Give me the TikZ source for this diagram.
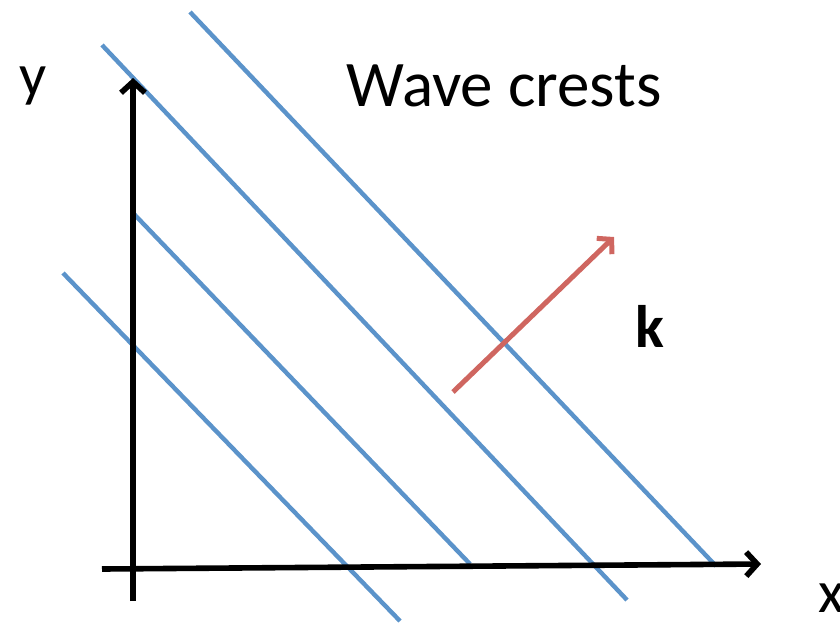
\documentclass[tikz,border=0pt]{standalone}
\usepackage{fontspec}
\setmainfont{Carlito}
\usetikzlibrary{arrows.meta}
\definecolor{crest}{HTML}{5B93CA}
\definecolor{kred}{HTML}{CF6660}
\begin{document}
\begin{tikzpicture}[x=1pt,y=-1pt,
  crestline/.style={draw=crest,line width=4.4pt},
  axis/.style={draw=black,line width=5.6pt,-{Straight Barb[length=11pt,width=24pt,line width=5.6pt]}},
  kvec/.style={draw=kred,line width=5pt,-{Straight Barb[length=10pt,width=22pt,line width=5pt]}},
  lbl/.style={inner sep=0pt,font=\fontsize{60}{62}\selectfont}]
\useasboundingbox (0,0) rectangle (840,625);
% axes
\coordinate (yb) at (133,601);
\coordinate (yt) at (133,78);
\coordinate (xl) at (102,569);
\coordinate (xr) at (761,564);
% crests
\coordinate (c1a) at (63,273);  \coordinate (c1b) at (400,621);
\coordinate (c2a) at (133,213); \coordinate (c2b) at (470,564);
\coordinate (c3a) at (102,45);  \coordinate (c3b) at (627,600);
\coordinate (c4a) at (190,12);  \coordinate (c4b) at (716,566);
% k vector
\coordinate (ka) at (453,392);
\coordinate (kb) at (614,237);
\draw[crestline] (c1a) -- (c1b);
\draw[crestline] (c2a) -- (c2b);
\draw[crestline] (c3a) -- (c3b);
\draw[crestline] (c4a) -- (c4b);
\draw[axis] (yb) -- (yt);
\draw[axis] (xl) -- (xr);
\draw[kvec] (ka) -- (kb);
\node[lbl] (ylab) at (33,86) {y};
\node[lbl,anchor=west] (xlab) at (818,598) {x};
\node[lbl,font=\fontsize{65}{67}\selectfont] (title) at (504,86) {Wave crests};
\node[lbl,font=\fontsize{60}{62}\selectfont\bfseries] (klab) at (650,326) {k};
\end{tikzpicture}
\end{document}
